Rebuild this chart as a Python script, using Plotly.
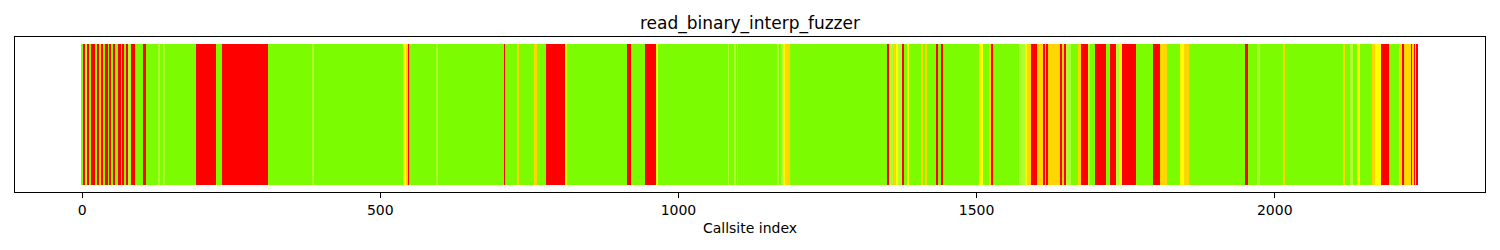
import plotly.graph_objects as go

# Run-length encoded callsite coverage: each run starts at run_starts[i] and
# continues until the next start (last run ends at n_callsites).
n_callsites = 2241
run_starts = [
    0, 2, 7, 8, 13, 15, 23, 25, 30, 32, 37, 39, 44, 47, 50, 52, 57, 60, 65, 69,
    72, 75, 77, 82, 89, 102, 107, 129, 131, 137, 139, 191, 225, 235, 313, 386,
    389, 539, 545, 548, 549, 595, 597, 709, 710, 729, 733, 759, 763, 778, 810,
    814, 915, 921, 944, 963, 966, 1084, 1086, 1095, 1098, 1099, 1101, 1166, 1169,
    1173, 1176, 1179, 1187, 1350, 1354, 1361, 1365, 1369, 1376, 1380, 1383, 1387,
    1408, 1411, 1414, 1417, 1434, 1437, 1440, 1444, 1505, 1511, 1521, 1525, 1528,
    1571, 1581, 1585, 1592, 1602, 1612, 1616, 1618, 1620, 1640, 1644, 1647, 1651,
    1658, 1670, 1675, 1688, 1690, 1699, 1717, 1725, 1735, 1739, 1744, 1767, 1797,
    1808, 1819, 1841, 1849, 1857, 1951, 1955, 1971, 1976, 2015, 2018, 2115, 2119,
    2126, 2132, 2140, 2143, 2164, 2168, 2179, 2192, 2210, 2213, 2215, 2218, 2229,
    2232, 2234, 2237, 2239,
]
run_colors = [
    "G", "R", "L", "R", "G", "R", "G", "R", "O", "R", "G", "R", "G", "R", "G", "R", "G", "R", "G", "R",
    "G", "R", "L", "R", "G", "R", "G", "L", "G", "L", "G", "R", "G", "R", "G", "L",
    "G", "Y", "O", "R", "G", "L", "G", "R", "G", "O", "G", "O", "G", "R", "Y",
    "G", "R", "G", "R", "Y", "G", "L", "G", "L", "G", "L", "G", "L", "G",
    "L", "Y", "O", "G", "R", "L", "O", "Y", "L", "R", "G", "Y", "G",
    "O", "G", "O", "G", "R", "G", "R", "G", "Y", "G", "O", "R", "G",
    "L", "Y", "O", "R", "O", "R", "O", "R", "O", "R", "O", "R", "L",
    "G", "O", "R", "L", "G", "R", "G", "R", "L", "Y", "R", "G", "R",
    "O", "G", "Y", "O", "G", "R", "G", "L", "G", "O", "G", "O", "G",
    "L", "G", "Y", "G", "O", "Y", "R", "G", "O", "L", "R", "O", "R",
    "O", "R", "Y", "R",
]
color_map = {
    "R": "#ff0000",   # red
    "O": "#ffd700",   # gold
    "Y": "#ffff00",   # yellow
    "L": "#adff2f",   # greenyellow
    "G": "#7cfc00",   # lawngreen
}
x_ticks = [0, 500, 1000, 1500, 2000]

run_ends = run_starts[1:] + [n_callsites]
centers = [(s + e) / 2 - 0.5 for s, e in zip(run_starts, run_ends)]
widths = [e - s for s, e in zip(run_starts, run_ends)]
colors = [color_map[c] for c in run_colors]

fig = go.Figure(
    go.Bar(
        x=centers,
        y=[1] * len(centers),
        width=widths,
        marker=dict(color=colors, line=dict(width=0)),
        hoverinfo="skip",
    )
)

pad = 0.05 * n_callsites
fig.update_layout(
    width=1500,
    height=250,
    margin=dict(l=15, r=15, t=37, b=58),
    plot_bgcolor="white",
    paper_bgcolor="white",
    showlegend=False,
    bargap=0,
    font=dict(family="DejaVu Sans", size=14, color="black"),
    title=dict(
        text="read_binary_interp_fuzzer",
        x=0.5,
        xanchor="center",
        y=1 - 23 / 250,
        yanchor="middle",
        yref="container",
        font=dict(size=17, family="DejaVu Sans", color="black"),
    ),
    xaxis=dict(
        range=[-0.5 - pad, n_callsites - 0.5 + pad],
        tickvals=x_ticks,
        ticktext=[str(t) for t in x_ticks],
        ticks="outside",
        ticklen=5,
        tickwidth=1,
        tickcolor="black",
        tickfont=dict(size=14, family="DejaVu Sans"),
        showline=True,
        linecolor="black",
        linewidth=1,
        mirror=True,
        showgrid=False,
        zeroline=False,
        title=dict(text="Callsite index", font=dict(size=14, family="DejaVu Sans"), standoff=6),
    ),
    yaxis=dict(
        range=[-0.05, 1.05],
        showticklabels=False,
        ticks="",
        showline=True,
        linecolor="black",
        linewidth=1,
        mirror=True,
        showgrid=False,
        zeroline=False,
    ),
)

fig.write_html("out.html")
